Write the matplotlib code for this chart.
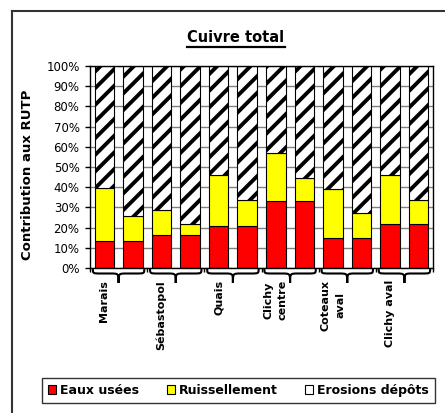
import matplotlib
matplotlib.use("Agg")
import matplotlib.pyplot as plt
import matplotlib.transforms as mtransforms
from matplotlib.path import Path
from matplotlib.patches import PathPatch, Patch
from matplotlib.lines import Line2D
import numpy as np

# ---- data ----
groups = ["Marais", "Sébastopol", "Quais", "Clichy\ncentre", "Coteaux\naval", "Clichy aval"]
eaux_usees = [13.4, 13.4, 16.2, 16.2, 20.6, 20.6, 33.3, 33.3, 14.7, 14.7, 21.8, 21.8]
cumul_ruiss = [39.8, 25.9, 28.7, 21.9, 45.9, 33.8, 56.9, 44.7, 39.3, 27.1, 45.9, 33.8]
ruissellement = [c - e for c, e in zip(cumul_ruiss, eaux_usees)]
erosions = [100 - c for c in cumul_ruiss]
series_names = ["Eaux usées", "Ruissellement", "Erosions dépôts"]
yticks = list(range(0, 101, 10))

plt.rcParams['font.family'] = ['DejaVu Sans']
plt.rcParams['hatch.linewidth'] = 2.8
plt.rcParams['hatch.color'] = 'black'

W, H = 445, 413
fig = plt.figure(figsize=(W / 100, H / 100), dpi=100)
ax = fig.add_axes([90 / W, 1 - 268 / H, (433 - 90) / W, (268 - 66) / H])

x = np.arange(len(eaux_usees))
bw = 0.68
ax.bar(x, eaux_usees, bw, color="#FF0000", edgecolor="black", linewidth=0.8)
ax.bar(x, ruissellement, bw, bottom=eaux_usees, color="#FFFF00", edgecolor="black", linewidth=0.8)
ax.bar(x, erosions, bw, bottom=cumul_ruiss, color="white", edgecolor="black", linewidth=0.8, hatch="//")

ax.set_xlim(-0.5, len(x) - 0.5)
ax.set_ylim(0, 100)
ax.set_yticks(yticks)
ax.set_yticklabels([f"{v}%" for v in yticks], fontsize=8.5)
ax.yaxis.grid(True, color="#808080", linewidth=1.0)
ax.set_axisbelow(True)
ax.tick_params(axis="y", direction="out", length=3.5, width=1, pad=4, colors="black")
ax.set_xticks(np.arange(-0.5, len(x), 2))
ax.set_xticklabels([])
ax.tick_params(axis="x", direction="out", length=3, width=1)
for s in ax.spines.values():
    s.set_color("black")
    s.set_linewidth(1.0)

# braces and category labels
trans = mtransforms.blended_transform_factory(ax.transData, ax.transAxes)
px = 1.0 / (268 - 66)
for g, name in enumerate(groups):
    x0 = 2 * g - 0.5 + 0.1
    x1 = 2 * g + 1.5 - 0.1
    xm = (x0 + x1) / 2
    r = 0.28
    yA, yB, yT = -0.5 * px, -5.5 * px, -15 * px
    verts = [(x0, yA), (x0, yB), (x0, yB), (x0 + r, yB),
             (xm - r, yB),
             (xm, yB), (xm, yB), (xm, yT),
             (xm, yB), (xm, yB), (xm + r, yB),
             (x1 - r, yB),
             (x1, yB), (x1, yB), (x1, yA)]
    codes = [Path.MOVETO, Path.CURVE4, Path.CURVE4, Path.CURVE4,
             Path.LINETO,
             Path.CURVE4, Path.CURVE4, Path.CURVE4,
             Path.CURVE4, Path.CURVE4, Path.CURVE4,
             Path.LINETO,
             Path.CURVE4, Path.CURVE4, Path.CURVE4]
    ax.add_patch(PathPatch(Path(verts, codes), transform=trans, fill=False,
                           edgecolor="black", linewidth=1.5, clip_on=False))
    ax.text(2 * g, -12 * px, name, transform=trans, rotation=90, ha="center", va="top",
            fontsize=8, fontweight="bold", multialignment="center", linespacing=1.55)

# title with underline
t = fig.text(236 / W, 1 - 37 / H, "Cuivre total", ha="center", va="center",
             fontsize=10.5, fontweight="bold")
fig.canvas.draw()
bb = t.get_window_extent(fig.canvas.get_renderer())
uy = (bb.y0 - 2) / H
fig.add_artist(Line2D([bb.x0 / W, bb.x1 / W], [uy, uy], color="black", linewidth=1.6))

# y label
fig.text(28 / W, 1 - 175 / H, "Contribution aux RUTP", rotation=90, ha="center", va="center",
         fontsize=9.5, fontweight="bold")

# outer frame (cropped)
fig.add_artist(Line2D([12 / W, 1.0], [1 - 11 / H, 1 - 11 / H], color="#333333", linewidth=1.5))
fig.add_artist(Line2D([12 / W, 12 / W], [0, 1 - 11 / H], color="#333333", linewidth=1.5))

# legend
handles = [Patch(facecolor="#FF0000", edgecolor="black", linewidth=0.8),
           Patch(facecolor="#FFFF00", edgecolor="black", linewidth=0.8),
           Patch(facecolor="white", edgecolor="black", linewidth=0.8)]
leg = fig.legend(handles, series_names, loc="center", bbox_to_anchor=(238.5 / W, 1 - 390.5 / H),
                 ncol=3, frameon=True, fancybox=False, handlelength=0.65, handleheight=0.65,
                 handletextpad=0.3, columnspacing=2.2, borderpad=0.5, borderaxespad=0,
                 prop={"weight": "bold", "size": 9})
leg.get_frame().set_edgecolor("black")
leg.get_frame().set_linewidth(1.0)

fig.savefig("out.png", dpi=100)
